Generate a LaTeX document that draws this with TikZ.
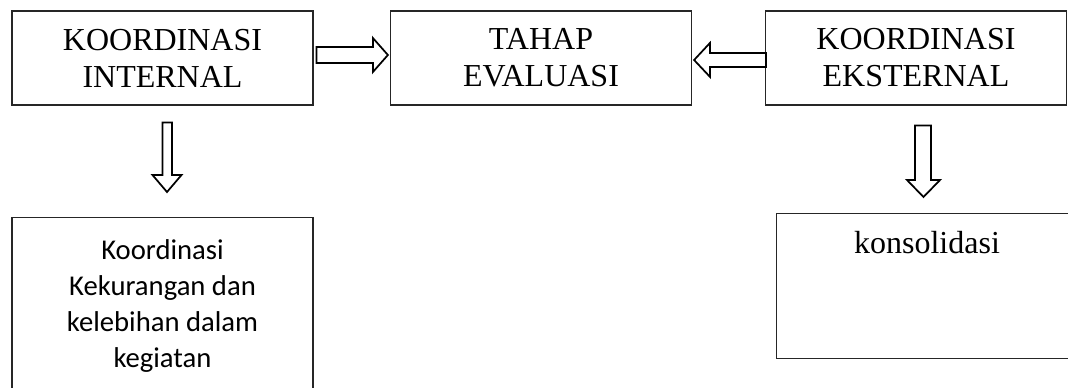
\documentclass[tikz,border=0pt]{standalone}
\usepackage{fontspec}
\setmainfont{Liberation Serif}
\newfontfamily\calibri{Carlito}
\usetikzlibrary{positioning}
\usetikzlibrary{calc}

\tikzset{
	kotak/.style={draw=black!85,line width=0.9pt,minimum width=225.75pt,inner xsep=0pt},
	judul/.style={kotak,minimum height=70.5pt,align=center,
		execute at begin node={\rule{0pt}{20.5pt}},
		font=\fontsize{24}{27.75}\selectfont},
	panah/.style={draw=black,line width=1.3pt,line join=miter,fill=white}
}

\begin{document}
\begin{tikzpicture}[x=0.75pt,y=-0.75pt]
		\path[use as bounding box,clip] (0,0) rectangle (1068,387);
		\node (intern)   [judul] at (162.5,58) {KOORDINASI\\INTERNAL};
		\node (evaluasi) [judul] at (541,58)   {TAHAP\\EVALUASI};
		\node (ekstern)  [judul] at (916,58)   {KOORDINASI\\EKSTERNAL};
		\node (kekurangan) [kotak,anchor=north,align=center,inner ysep=16.5pt,
			font={\calibri\fontsize{21.5}{27}\selectfont}] at (162.5,217)
			{Koordinasi\\Kekurangan dan\\kelebihan dalam\\kegiatan};
		\node (konsolidasi) [kotak,anchor=north,text height=15pt,text depth=63.75pt,
			inner ysep=15pt,font=\fontsize{24}{27.75}\selectfont] at (927,213) {konsolidasi};
		% panah
		\draw [panah] ($(intern.east)+(3,-11)$) -- ($(evaluasi.west)+(-17,-11)$)
			-- ++(0,-9) -- ($(evaluasi.west)+(-2,-3)$) -- ($(evaluasi.west)+(-17,14)$)
			-- ++(0,-9) -- ($(intern.east)+(3,5)$) -- cycle;
		\draw [panah] ($(ekstern.west)+(1,-5)$) -- ($(evaluasi.west)+(320,-5)$)
			-- ++(0,-10) -- ($(evaluasi.east)+(2,2)$) -- ($(evaluasi.east)+(18,19)$)
			-- ++(0,-10) -- ($(ekstern.west)+(1,9)$) -- cycle;
		\draw [panah] ($(intern.south)+(0,17)$) -- ($(kekurangan.north)+(0,-42)$)
			-- ++(-10,0) -- ($(kekurangan.north)+(4.5,-25)$) -- ($(kekurangan.north)+(19,-42)$)
			-- ++(-9.5,0) -- ($(intern.south)+(9.5,17)$) -- cycle;
		\draw [panah] ($(ekstern.south)+(-1,20)$) -- ($(konsolidasi.north)+(-12,-33)$)
			-- ++(-8,0) -- ($(konsolidasi.north)+(-3.5,-16)$) -- ($(konsolidasi.north)+(13,-33)$)
			-- ++(-9,0) -- ($(ekstern.south)+(15,20)$) -- cycle;
	\end{tikzpicture}
\end{document}
